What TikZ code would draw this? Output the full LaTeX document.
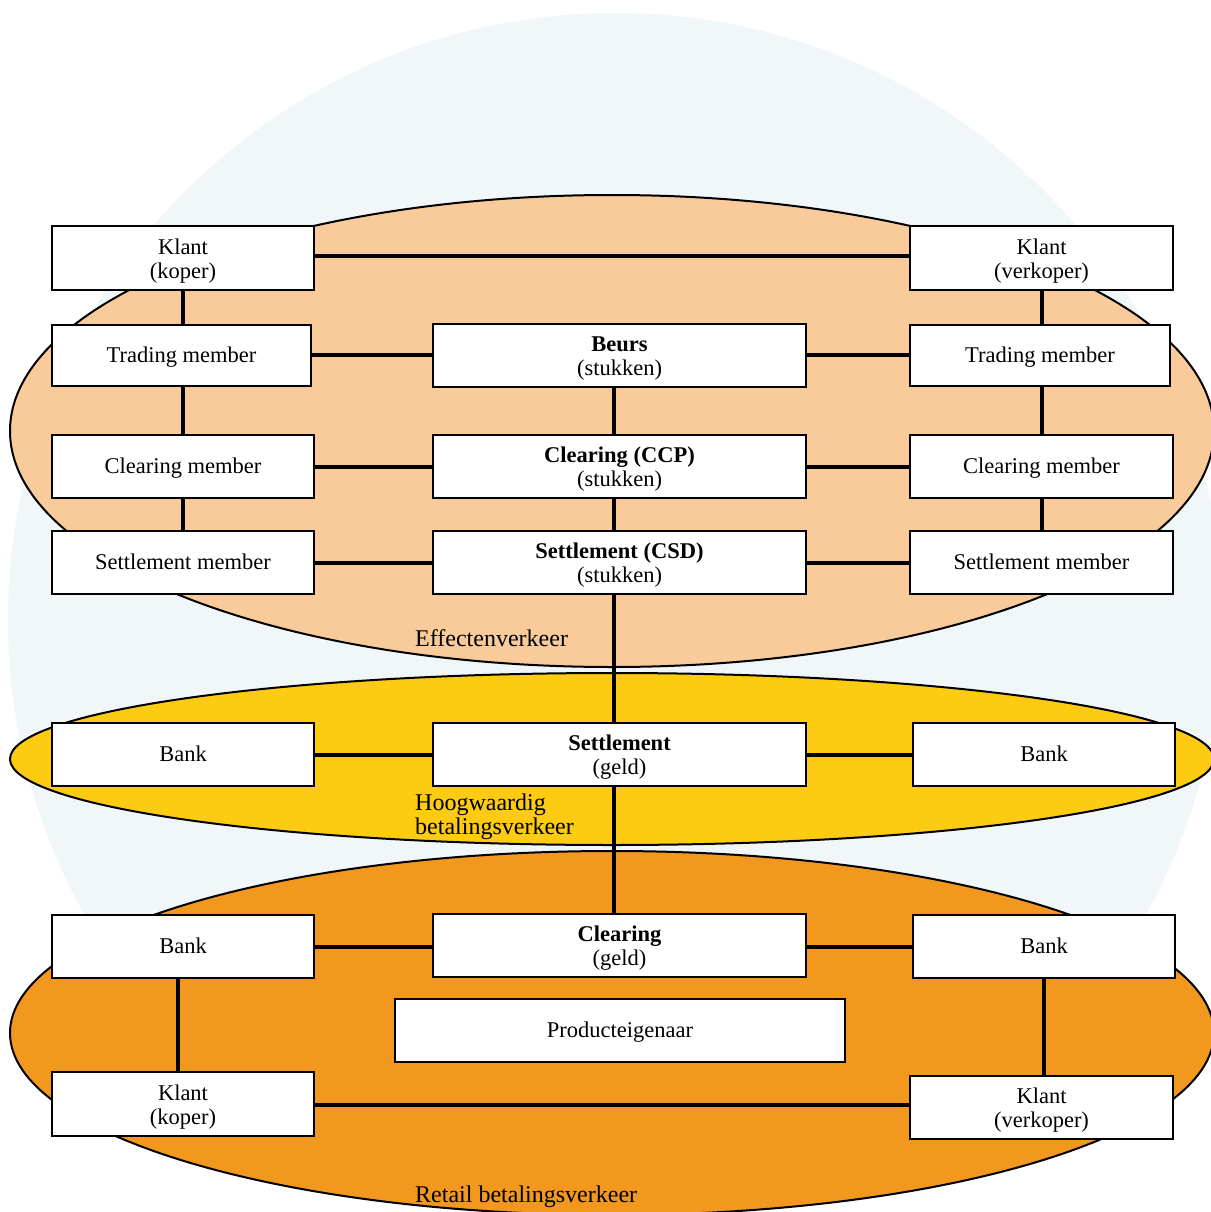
\documentclass[tikz,border=0pt]{standalone}
\usepackage{fontspec}
\setmainfont{Liberation Serif}
\definecolor{bgcirc}{HTML}{F1F6F9}
\definecolor{peach}{HTML}{F9CB9B}
\definecolor{yel}{HTML}{FCCB12}
\definecolor{orng}{HTML}{F2981E}
\newcommand\boxstrut{\rule[-5pt]{0pt}{24.9pt}}
\tikzset{
  box/.style={draw=black, line width=2pt, fill=white, inner sep=0pt, align=center,
    font=\fontsize{22.5}{24}\selectfont,
    execute at begin node=\boxstrut, execute at end node=\boxstrut},
  two/.style={execute at begin node=\rule[-5pt]{0pt}{50.5pt}},
  wbox/.style={box, minimum width=262pt, minimum height=63pt},
  mbox/.style={box, two, minimum width=373pt, minimum height=63pt},
  conn/.style={line width=4pt},
  area/.style={draw=black, line width=2pt},
  lbl/.style={inner sep=0pt, anchor=base west, font=\fontsize{24}{23.5}\selectfont, align=left}
}
\begin{document}
\begin{tikzpicture}[x=1pt,y=-1pt]
\useasboundingbox (0,0) rectangle (1210,1212);
% background
\fill[bgcirc] (615,620) circle (607);
% areas
\draw[area, fill=peach] (612,431) ellipse [x radius=602, y radius=236];
\draw[area, fill=yel] (612,759) ellipse [x radius=602, y radius=86];
\draw[area, fill=orng] (612,1033) ellipse [x radius=602, y radius=182];
% area labels
\node[lbl] (lEff) at (415,646) {Effectenverkeer};
\node[lbl] (lHoog) at (415,834) {Hoogwaardig\\betalingsverkeer};
\node[lbl] (lRet) at (415,1202) {Retail betalingsverkeer};
% boxes
\node[wbox, two, minimum height=64pt] (kLt) at (183,258) {Klant\\(koper)};
\node[wbox, two, minimum width=263pt, minimum height=64pt] (kRt) at (1041.5,258) {Klant\\(verkoper)};
\node[wbox, minimum width=259pt, minimum height=61pt] (tL) at (181.5,355) {Trading member};
\node[mbox] (beurs) at (619.5,355) {\textbf{Beurs}\\(stukken)};
\node[wbox, minimum width=260pt, minimum height=61pt] (tR) at (1040,355) {Trading member};
\node[wbox] (cL) at (183,466.5) {Clearing member};
\node[mbox] (ccp) at (619.5,466.5) {\textbf{Clearing (CCP)}\\(stukken)};
\node[wbox, minimum width=263pt] (cR) at (1041.5,466.5) {Clearing member};
\node[wbox] (sL) at (183,562.5) {Settlement member};
\node[mbox] (csd) at (619.5,562.5) {\textbf{Settlement (CSD)}\\(stukken)};
\node[wbox, minimum width=263pt] (sR) at (1041.5,562.5) {Settlement member};
\node[wbox] (bLm) at (183,754.5) {Bank};
\node[mbox] (sg) at (619.5,754.5) {\textbf{Settlement}\\(geld)};
\node[wbox] (bRm) at (1044,754.5) {Bank};
\node[wbox] (bLb) at (183,946.5) {Bank};
\node[mbox] (cg) at (619.5,945) {\textbf{Clearing}\\(geld)};
\node[wbox] (bRb) at (1044,946.5) {Bank};
\node[box, minimum width=450pt, minimum height=63pt] (prod) at (620,1030.5) {Producteigenaar};
\node[wbox, two, minimum height=64pt] (kLb) at (183,1104) {Klant\\(koper)};
\node[wbox, two, minimum width=263pt] (kRb) at (1041.5,1107.5) {Klant\\(verkoper)};
% connectors
\draw[conn] ([yshift=2pt]kLt.east) -- ([yshift=2pt]kLt.east -| kRt.west);
\draw[conn] (kLt.south) -- (kLt.south |- tL.north);
\draw[conn] (tL.south -| kLt.south) -- (kLt.south |- cL.north);
\draw[conn] (cL.south) -- (sL.north);
\draw[conn] (kRt.south) -- (kRt.south |- tR.north);
\draw[conn] (tR.south -| kRt.south) -- (kRt.south |- cR.north);
\draw[conn] (cR.south) -- (sR.north);
\draw[conn] (tL.east) -- (beurs.west);
\draw[conn] (beurs.east) -- (tR.west);
\draw[conn] (cL.east) -- (ccp.west);
\draw[conn] (ccp.east) -- (cR.west);
\draw[conn] (sL.east) -- (csd.west);
\draw[conn] (csd.east) -- (sR.west);
\draw[conn] ([xshift=-5.5pt]beurs.south) -- ([xshift=-5.5pt]ccp.north);
\draw[conn] ([xshift=-5.5pt]ccp.south) -- ([xshift=-5.5pt]csd.north);
\draw[conn] ([xshift=-5.5pt]csd.south) -- ([xshift=-5.5pt]sg.north);
\draw[conn] ([xshift=-5.5pt]sg.south) -- ([xshift=-5.5pt]cg.north);
\draw[conn] (bLm.east) -- (sg.west);
\draw[conn] (sg.east) -- (bRm.west);
\draw[conn] (bLb.east) -- (bLb.east -| cg.west);
\draw[conn] (bRb.west -| cg.east) -- (bRb.west);
\draw[conn] ([xshift=-5pt]bLb.south) -- ([xshift=-5pt]bLb.south |- kLb.north);
\draw[conn] (bRb.south) -- (bRb.south |- kRb.north);
\draw[conn] ([yshift=-1pt]kLb.east) -- ([yshift=-1pt]kLb.east -| kRb.west);
\end{tikzpicture}
\end{document}
